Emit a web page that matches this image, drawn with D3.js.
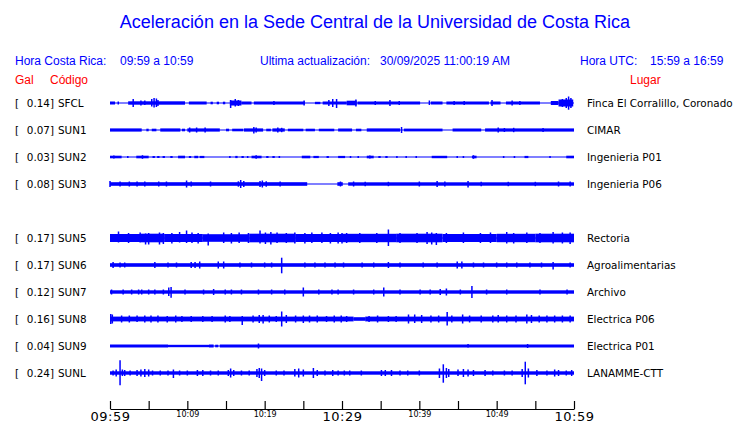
<!DOCTYPE html>
<html>
<head>
<meta charset="utf-8">
<script src="https://cdn.jsdelivr.net/npm/d3@7"></script>
<style>
  body { margin: 0; background: #fff; }
  svg { display: block; }
  .hdr { font-family: "Liberation Sans", Arial, sans-serif; font-size: 12px; }
  .lbl { font-family: "DejaVu Sans", sans-serif; font-size: 10.4px; fill: #000; }
</style>
</head>
<body>
<div id="chart"></div>
<script>
// Stations, peak acceleration (gal) and place
const stations = ["SFCL", "SUN1", "SUN2", "SUN3", "SUN5", "SUN6", "SUN7", "SUN8", "SUN9", "SUNL"];
const gal = [0.14, 0.07, 0.03, 0.08, 0.17, 0.17, 0.12, 0.16, 0.04, 0.24];
const places = ["Finca El Corralillo, Coronado", "CIMAR", "Ingenieria P01", "Ingenieria P06",
  "Rectoria", "Agroalimentarias", "Archivo", "Electrica P06", "Electrica P01", "LANAMME-CTT"];
// slot on the page (SUN4 is missing -> empty slot 4)
const rowSlot = [0, 1, 2, 3, 5, 6, 7, 8, 9, 10];

// minutes after 09:59, tick labels
const tickMinutes = [0, 5, 10, 15, 20, 25, 30, 35, 40, 45, 50, 55, 60];
const tickLabels = { 0: "09:59", 10: "10:09", 20: "10:19", 30: "10:29", 40: "10:39", 50: "10:49", 60: "10:59" };
const bigTicks = [0, 30, 60];

// envelope: body segments [startMin, endMin, halfAmp]
// and bursts [min, up, down]
const bodySFCL = [[0,0.65,1.5],[2.35,9.7,1.7],[10.2,12.5,1.5],[13,13.3,1.3],[13.8,14.1,1.3],[14.6,14.9,1.3],[15.5,17,2.5],[17,18.3,1.5],[18.6,25.2,1.5],[26.5,27.2,1.2],[27.5,30.6,1.5],[30.6,31.9,2.3],[32,40.1,1.5],[41.5,43,1.5],[43.5,49,1.5],[49.2,50.5,1.5],[51.2,55.6,1.5],[57,58,2],[58,59.9,3.5]];
const spikesSFCL = [[1.07,1.5,1.5],[3.0,4,4],[4.0,2.5,2.5],[4.5,2.5,2],[5.4,4,3.5],[5.7,5,4.5],[6.0,4.5,4],[6.2,3,3],[15.6,3,5],[16.2,4,3.5],[16.6,3,3],[21.2,2,2],[25.1,2.5,2.5],[28.3,3,3],[28.8,4,4],[29.3,4,5],[31.8,3.5,3.5],[34.3,2,2],[36.2,3,3],[37.4,2,2],[41.3,2.5,2],[44.5,2,2],[45.8,2,2],[49.4,3,3],[52,2.5,2.5],[53,2,2],[58.5,4,4],[59.0,5,5],[59.3,6.5,6.7],[59.6,5,5]];

const bodySUN1 = [[0,4.1,1.6],[4.7,5.0,1.3],[5.4,6.0,1.3],[6.5,9.1,1.6],[9.3,9.7,1.3],[10,14.2,1.6],[15,15.4,1.3],[15.8,17.2,1.3],[17.3,19.8,1.6],[20.2,20.8,1.3],[21,22.6,1.6],[23,25,1.3],[25.3,26.5,1.3],[27,29,1.3],[29.5,31.3,1.5],[31.8,32.5,1.3],[33.2,37.5,1.6],[38,43,1.4],[44.3,48,1.5],[48.5,60,1.6]];
const spikesSUN1 = [[10.3,2.5,2.5],[11.2,2.5,2.5],[12.3,2.5,2.5],[18.6,3,3.5],[18.9,2.5,2.5],[21.7,2.5,2.5],[22.2,2.2,2.2],[37.7,3,3],[50.2,2.5,2.5],[51,2,2],[52.2,2.2,2.2],[56,2,2]];

const bodySUN2 = [[0,1.5,1.3],[2.2,2.4,1],[3.4,5.0,1.3],[5.5,5.8,1],[6.1,6.4,1],[6.8,7.1,1],[7.8,8.1,1],[8.8,9.7,1.3],[10.2,10.5,1],[10.9,11.4,1.2],[11.6,12.2,1.1],[15.4,15.6,1],[16.2,16.5,1.1],[17,17.3,1],[17.7,17.9,1],[18.3,19.6,1.3],[20.2,20.5,1],[21,21.3,1],[21.8,22,1],[24.8,25.9,1.3],[26.3,27,1.1],[28,28.3,1],[29.5,30.4,1.1],[31,31.2,1],[32,32.2,1],[33.2,34.1,1.3],[34.7,35,1],[35.6,35.9,1],[37,37.2,1],[38.2,38.4,1],[39.5,39.7,1],[41.6,43.6,1.2],[44.8,45,1],[45.6,45.8,1],[46.8,47.4,1.3],[50.8,51,1],[52.2,52.4,1],[53.6,54.1,1.1],[56.8,57,1],[59,60,1.3]];
const spikesSUN2 = [[0.5,1.5,1.5],[4.2,1.8,1.8],[18.9,1.8,1.8],[33.6,1.5,1.5],[47,1.8,1.8]];

const bodySUN3 = [[0,25.5,1.8],[29.4,30.1,1.8],[30.8,60,1.7]];
const spikesSUN3 = [[0,3,3],[1.3,2.5,2.5],[2.5,2.5,2.5],[3.5,2.5,2.5],[4.5,2.5,2.5],[6.3,2.5,2.5],[7.3,2.5,2.5],[9.9,3.5,3.5],[10.5,2.5,2.5],[13,2.5,2.5],[16.6,2.7,2.7],[16.9,4,4],[17.3,3,3],[19.4,3,3],[19.7,3.5,3.5],[20.2,2.7,2.7],[22,2.5,2.5],[29.8,2.5,2.5],[31.5,2.5,2.5],[33,2.2,2.2],[36,2.2,2.2],[40,2.5,2.5],[42.3,3,3],[43.3,2.5,2.5],[46.3,3,3.5],[48,2.2,2.2],[51.5,2.2,2.2],[55,2.2,2.2],[58,2.5,2.5],[59.5,2.5,2.5]];

const bodySUN5 = [[0,4,4],[4,7,4.3],[7,12,4],[12,18,3.8],[18,24,4.3],[24,30,4],[30,37,4.2],[37,43,4.3],[43,50,4],[50,55,4.2],[55,60,4.3]];
const spikesSUN5 = [[1.1,6.5,4.5],[2.4,5,5],[3.9,5.5,4.5],[4.6,4.5,6.5],[5.0,5,6.5],[6.4,5.5,6.5],[6.9,5,6],[8.0,5,5.5],[9.0,6,4.5],[9.9,7.5,5],[10.6,5.5,5],[11.4,5,5.5],[12.7,4.5,7.5],[14.7,5.5,5],[15.7,5,5.5],[16.7,5.5,5],[17.9,5,5],[19.4,7.5,5.5],[20.1,5.5,6],[20.8,6,6.5],[21.6,5.5,5],[22.8,5,5],[23.9,5.5,5.5],[25.2,5,5.5],[26.1,5.5,5],[27.4,5.5,5],[28.5,5,5.5],[29.5,5.5,5.5],[30,5,5.5],[30.6,5,5],[32.3,5,5],[34.5,5,5],[36.0,8.5,8],[37.5,5,5],[39.7,5,5],[41.0,6,6],[41.6,5.5,6.5],[42.2,5,7],[43.5,5,5],[45.7,5.5,5],[47.9,5,5],[49.2,5.5,5],[51.3,6,5.5],[52.2,5,5.5],[53.9,5.5,5],[55.6,5,5],[57.3,6,5.5],[58.5,5.5,5.5],[59.5,5.5,6]];

const bodySUN6 = [[0,60,1.8]];
const spikesSUN6 = [[0.4,3,3],[1.3,2.5,2.5],[1.9,2.5,2.5],[5.8,3,3],[7.5,2.5,2.5],[8.6,2.5,2.5],[10.5,3,3],[11.0,3,3],[11.6,3.5,3.5],[14.0,3.5,3.5],[14.7,3.5,3.5],[16.8,2.5,2.5],[18.3,2.5,2.5],[20.0,2.5,2.5],[20.9,2.5,2.5],[22.2,7.3,8.3],[25.2,2.5,2.5],[26.5,2.5,2.5],[27.8,2.5,2.5],[29.1,2.5,2.5],[30.2,2.5,2.5],[32.6,2.5,2.5],[34.1,2.5,2.5],[36.0,3,3],[37.5,2.5,2.5],[40.5,2.5,2.5],[42.3,2.5,2.5],[44.9,3.5,3.5],[45.5,3.5,3.5],[47.0,2.5,2.5],[48.3,2.5,2.5],[50.0,2.5,2.5],[51.3,2.5,2.5],[52.6,2.5,2.5],[54.3,2.5,2.5],[55.8,2.5,2.5],[57.3,3,4.5],[59.5,2.5,2.5]];

const bodySUN7 = [[0,60,1.7]];
const spikesSUN7 = [[0.2,2.5,2.5],[1.7,2.5,2.5],[2.8,2.5,2.5],[3.7,2.5,2.5],[4.1,2.5,2.5],[5.0,2.5,2.5],[5.8,2.5,2.5],[6.9,2.5,2.5],[7.6,4.5,4],[7.9,5,5.7],[9.7,2.5,2.5],[12.1,2.5,2.5],[13.4,3,3],[14.9,2.5,2.5],[15.7,2.5,2.5],[17.0,2.5,2.5],[19.2,2.5,2.5],[20.9,2.5,2.5],[22.6,2.5,2.5],[25.0,4.5,4.5],[27.0,2.5,2.5],[28.7,2.5,2.5],[29.5,2.5,2.5],[31.5,2.5,2.5],[34.1,2.5,2.5],[35.4,4.5,4.5],[37.5,2.5,2.5],[40.1,2.5,2.5],[41.4,2.5,2.5],[42.7,3,3],[43.5,3.5,3.5],[45.3,2.5,2.5],[46.8,6,6],[48.7,2.5,2.5],[51.3,2.5,2.5],[55.6,2.5,2.5],[59.1,2.5,2.5]];

const bodySUN8 = [[0,31.5,2.4],[31.5,33,1.8],[33,60,2.4]];
const spikesSUN8 = [[0.1,5,5],[0.3,4.5,4.5],[1.5,3.5,3.5],[2.5,3.5,3.5],[3.5,3.5,3],[4.5,3.5,3.5],[5.3,3.5,3.5],[6.2,3.5,3.5],[7.4,3,3.5],[8.5,3.5,3.5],[9.3,3,3],[10.5,3,3],[12,3,3],[13.2,3,3],[14.9,3.5,3.5],[15.5,3,3],[17.1,3,6],[18.5,3.5,3.5],[19.3,4,4],[19.8,4,4.5],[20.6,3.5,3.5],[21.5,3,3],[22.2,7.5,7.5],[22.8,4,4],[24,3.5,3.5],[25,3.5,4],[25.8,3.5,3.5],[26.8,3.5,3.5],[28,3,3],[29,3.5,3.5],[29.9,3.5,3.5],[30.6,3,3],[33.5,3,3],[34.6,3.5,3.5],[36,3,3],[37,3,3],[38.6,4.5,4.5],[39.4,4.5,4],[40.3,4,4],[41.5,3.5,3.5],[42.5,3.5,3.5],[43.6,7,6.5],[44.2,3.5,3.5],[45.6,4.5,4.5],[46.5,3.5,3.5],[48,3.5,3.5],[49.5,3.5,3.5],[50.2,4,3.5],[51.3,3.5,3.5],[52.5,3.5,3.5],[53.9,4.5,4.5],[54.5,4,4],[55.5,3.5,3.5],[56.5,3.5,3.5],[57.5,3.5,3.5],[58.5,3.5,3.5],[59.5,3.5,3.5]];

const bodySUN9 = [[0,7.5,1.5],[7.5,12.8,1.2],[12.8,13.4,1.5],[13.6,14,1.3],[14.2,60,1.5]];
const spikesSUN9 = [[19.2,2.5,2.5],[46.3,2,1.5],[54,2,2]];

const bodySUNL = [[0,60,1.7]];
const spikesSUNL = [[0.4,2.5,2.5],[0.8,3.5,3.5],[1.3,12.7,12.3],[1.6,3.5,3],[1.9,3,3],[2.6,2.5,2.5],[3.5,3,3],[4.0,3.5,3.5],[4.5,4,4],[5.0,3.5,3.5],[5.5,2.5,2.5],[6.5,2.5,2.5],[7.5,2.5,2.5],[8.2,3.5,5],[9,2.5,2.5],[10,2.5,2.5],[11.3,3,3],[12,3,3],[13,2.5,2.5],[14,2.5,2.5],[15.3,3,3],[15.6,4.5,4.5],[16,3,3],[17,2.5,2.5],[18,2.5,2.5],[19,4,4],[19.3,5,5],[19.6,4.5,8],[20,3,3],[21.5,2.5,2.5],[22.5,2.5,2.5],[23.9,4,3.5],[24.4,4.5,4.5],[25,3.5,3.5],[26.3,5,5],[26.8,3,3],[27.8,2.5,2.5],[28.8,3,3],[29.5,2.5,2.5],[30.3,2.5,2.5],[31,2.5,2.5],[32.5,2.5,2.5],[35.1,3,3],[35.6,3,3],[36.4,3,3],[37.5,2.5,2.5],[38.5,2.5,2.5],[40,2.5,2.5],[42.6,4.5,5],[43.1,8.7,9.7],[43.5,5,5],[43.8,4,4],[45,3.5,3],[45.7,4,4],[46.3,3.5,3.5],[47,3,3],[48.5,3,3],[49.5,2.5,2.5],[51,2.5,2.5],[52,2.5,2.5],[53.3,4,4],[53.7,11.3,11.3],[54.1,4.5,4.5],[55.2,3,3],[56.5,2.5,2.5],[57.5,3.5,3.5],[58,3,3],[59,2.5,2.5],[59.7,3,3]];

const bodies = [bodySFCL, bodySUN1, bodySUN2, bodySUN3, bodySUN5, bodySUN6, bodySUN7, bodySUN8, bodySUN9, bodySUNL];
const spikes = [spikesSFCL, spikesSUN1, spikesSUN2, spikesSUN3, spikesSUN5, spikesSUN6, spikesSUN7, spikesSUN8, spikesSUN9, spikesSUNL];

const width = 740, height = 423;
const blue = "#0000ff", red = "#ff0000";

const svg = d3.select("#chart").append("svg")
  .attr("width", width)
  .attr("height", height);

// title + header lines
svg.append("text")
  .attr("x", 375).attr("y", 28)
  .attr("text-anchor", "middle")
  .attr("fill", blue)
  .style("font-family", "'Liberation Sans', Arial, sans-serif")
  .style("font-size", "18px")
  .text("Aceleración en la Sede Central de la Universidad de Costa Rica");

const header = [
  { x: 15, t: "Hora Costa Rica:" }, { x: 120, t: "09:59 a 10:59" },
  { x: 260, t: "Ultima actualización:" }, { x: 380, t: "30/09/2025 11:00:19 AM" },
  { x: 580, t: "Hora UTC:" }, { x: 650, t: "15:59 a 16:59" }
];
svg.selectAll("text.h1").data(header).enter().append("text")
  .attr("class", "hdr h1")
  .attr("x", d => d.x).attr("y", 65)
  .attr("fill", blue)
  .text(d => d.t);

const header2 = [{ x: 15, t: "Gal" }, { x: 50, t: "Código" }, { x: 630, t: "Lugar" }];
svg.selectAll("text.h2").data(header2).enter().append("text")
  .attr("class", "hdr h2")
  .attr("x", d => d.x).attr("y", 84)
  .attr("fill", red)
  .text(d => d.t);

// scales
const x = d3.scaleLinear().domain([0, 60]).range([110, 574]);
const rowY = d3.scaleLinear().domain([0, 10]).range([103, 373]);
const amp = d3.scaleLinear().domain([-13, 13]).range([13, -13]);

const rows = svg.append("g").selectAll("g")
  .data(stations.map((s, i) => ({ code: s, gal: gal[i], place: places[i], slot: rowSlot[i], body: bodies[i], spikes: spikes[i] })))
  .enter().append("g")
  .attr("transform", d => `translate(0,${rowY(d.slot)})`);

// labels
rows.append("text").attr("class", "lbl").attr("x", 15).attr("y", 4).text("[");
rows.append("text").attr("class", "lbl").attr("x", 54).attr("y", 4)
  .attr("text-anchor", "end").text(d => d.gal.toFixed(2) + "]");
rows.append("text").attr("class", "lbl").attr("x", 58).attr("y", 4).text(d => d.code);
rows.append("text").attr("class", "lbl").attr("x", 587).attr("y", 4).text(d => d.place);

// baseline trace
rows.append("line")
  .attr("x1", x(0)).attr("x2", x(60))
  .attr("y1", amp(0)).attr("y2", amp(0))
  .attr("stroke", blue).attr("stroke-width", 1.2);

// trace body
rows.each(function(d) {
  const g = d3.select(this);
  g.selectAll("rect").data(d.body).enter().append("rect")
    .attr("x", s => x(s[0]))
    .attr("width", s => x(s[1]) - x(s[0]))
    .attr("y", s => amp(s[2]))
    .attr("height", s => amp(-s[2]) - amp(s[2]))
    .attr("fill", blue);
  g.selectAll("line.sp").data(d.spikes).enter().append("line")
    .attr("class", "sp")
    .attr("x1", s => x(s[0])).attr("x2", s => x(s[0]))
    .attr("y1", s => amp(s[1])).attr("y2", s => amp(-s[2]))
    .attr("stroke", blue).attr("stroke-width", 1.5);
});

// time axis
const axis = d3.axisBottom(x)
  .tickValues(tickMinutes)
  .tickSizeInner(-8)
  .tickSizeOuter(0)
  .tickFormat(m => tickLabels[m] || "");

const ax = svg.append("g")
  .attr("transform", "translate(0,409)")
  .call(axis);
ax.select(".domain").attr("stroke", "#000").attr("stroke-width", 1.2);
ax.selectAll(".tick line").attr("stroke", "#000").attr("stroke-width", 1.2);
ax.selectAll(".tick text")
  .attr("fill", "#000")
  .attr("dy", null)
  .attr("y", m => bigTicks.includes(m) ? 12 : 8)
  .style("font-family", "'DejaVu Sans', sans-serif")
  .style("font-size", m => bigTicks.includes(m) ? "13px" : "8px")
  .style("letter-spacing", m => bigTicks.includes(m) ? "0.5px" : "0px");
</script>
</body>
</html>
